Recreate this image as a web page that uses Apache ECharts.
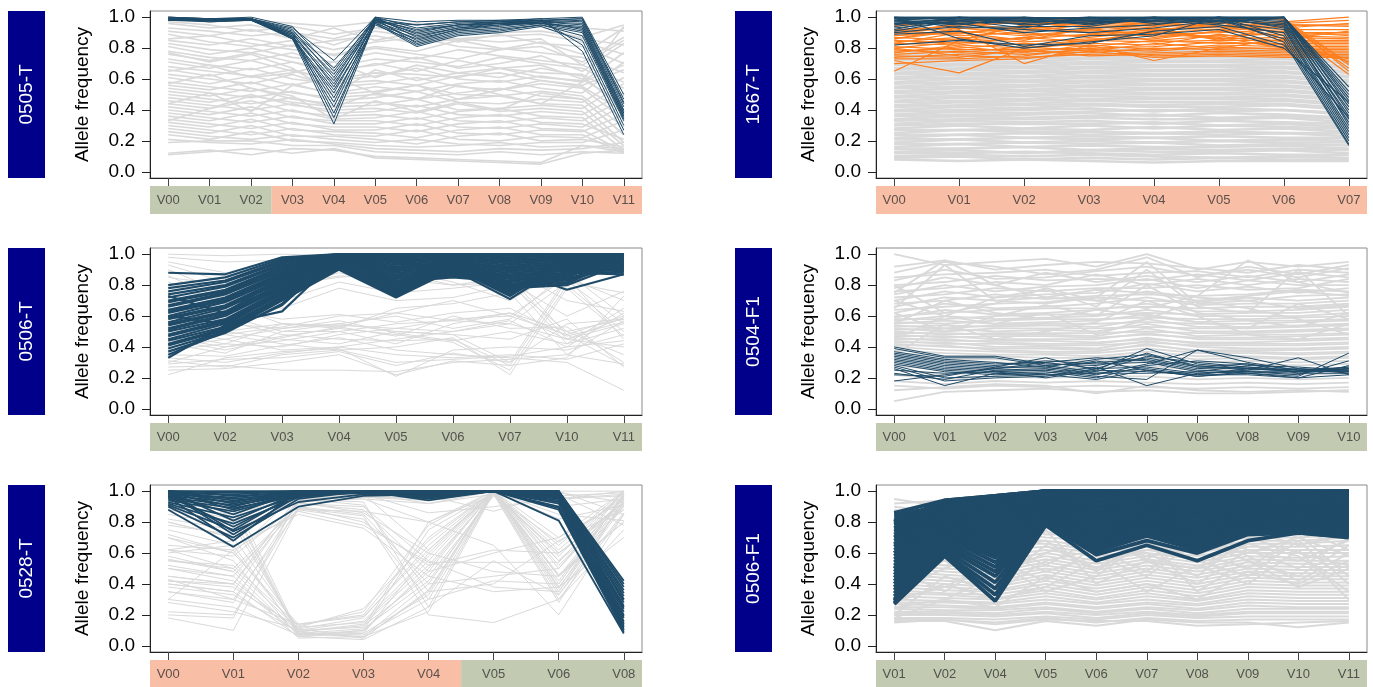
<!DOCTYPE html>
<html><head><meta charset="utf-8">
<script src="https://cdn.jsdelivr.net/npm/echarts@6/dist/echarts.min.js"></script>
<style>html,body{margin:0;padding:0;background:#fff}#c{width:1373px;height:687px}</style>
</head><body><div id="c"></div>
<script>
// ---------- DATA ----------
const panelNames = ['0505-T', '1667-T', '0506-T', '0504-F1', '0528-T', '0506-F1'];

const p1Cats = ['V00','V01','V02','V03','V04','V05','V06','V07','V08','V09','V10','V11'];
const p1Groups = [['green', 3], ['salmon', 9]];
const p1Gray = [
"99 97 98 96 94 97 95 97 96 95 93 91","96 93 95 90 86 93 90 91 93 94 86 82","93 91 88 90 82 91 87 86 88 89 84 76",
"91 88 92 86 93 85 90 84 89 83 81 70","89 84 81 85 79 84 87 81 79 84 76 93","86 88 83 79 76 81 78 85 80 77 74 64",
"83 79 77 82 75 80 76 73 79 81 71 87","81 76 80 74 71 77 73 79 75 72 69 58","78 74 72 77 68 73 71 68 74 70 67 54",
"76 72 77 71 66 69 74 67 70 75 65 83","73 69 66 71 64 70 65 72 67 64 63 49","71 67 72 65 60 64 63 61 67 69 60 44",
"68 65 62 66 59 62 67 60 58 62 58 77","66 62 67 60 57 59 56 62 64 59 55 39","63 60 57 63 55 57 61 55 53 57 54 34",
"61 57 62 56 51 55 52 57 59 54 51 71","58 55 52 57 50 52 56 50 49 52 49 29","56 53 58 51 48 50 47 51 54 49 47 24",
"54 51 48 52 46 48 52 45 44 47 45 61","52 49 54 47 44 45 42 47 49 44 43 19","50 47 44 48 42 43 47 40 41 43 41 57",
"48 45 50 43 40 41 38 44 39 41 39 17","46 43 40 44 38 39 43 37 36 39 37 51","44 41 46 39 36 37 34 39 41 36 35 14",
"42 39 36 40 34 35 39 33 32 35 33 47","40 37 42 35 33 33 30 35 37 32 31 21","38 35 32 36 31 31 35 29 28 31 29 43",
"36 33 38 31 29 29 26 31 33 28 27 13","34 31 28 32 27 27 31 25 24 27 26 37","32 29 34 27 26 25 22 27 29 24 24 12",
"30 27 24 28 24 23 27 21 20 23 22 33","28 25 30 23 23 21 18 23 25 20 21 16","26 23 21 24 21 19 21 18 17 19 19 27",
"24 21 26 20 19 17 16 17 19 16 17 13","21 19 18 21 18 15 14 13 15 14 15 19","19 20 20 17 17 13 12 11 13 11 13 12",
"12 14 11 15 14 10 9 8 7 6 17 15","11 13 15 12 15 9 8 7 6 5 12 14","97 95 91 94 89 93 96 92 90 91 87 95",
"85 82 86 81 85 88 83 86 84 86 69 85","65 69 61 64 71 61 69 64 67 61 59 94","44 51 39 56 61 51 47 56 50 44 58 69",
"33 41 49 45 42 51 56 47 53 59 56 66","57 63 54 49 34 46 39 45 40 51 47 24","77 71 76 67 51 66 59 64 61 67 62 40"
];
const p1Blue = [
"99 99 99 93 72 100 97 98 98 99 100 50","99 98 99 91 67 99 95 97 98 98 99 47","100 99 100 94 65 100 93 96 97 98 99 45",
"98 98 99 90 63 99 91 95 97 97 98 44","99 99 99 92 61 98 90 95 96 98 97 42","98 97 98 89 59 99 89 94 96 97 96 40",
"99 98 99 88 57 97 88 93 95 97 95 39","100 99 99 90 55 100 87 93 96 96 94 38","98 98 98 87 53 96 86 92 95 96 93 37",
"99 99 99 86 51 98 85 92 94 97 92 36","99 97 98 88 48 95 84 91 93 96 91 35","98 98 99 87 45 99 83 90 92 95 90 34",
"99 98 98 86 42 97 82 89 91 95 88 33","100 99 99 89 38 96 81 88 90 94 85 30","98 98 99 87 35 98 92 95 96 98 82 27",
"99 99 99 86 31 97 95 97 97 99 78 24"
];

const p2Cats = ['V00','V01','V02','V03','V04','V05','V06','V07'];
const p2Groups = [['salmon', 8]];
const p2Gray = [
"8 7 8 7 6 7 7 7","9 10 8 9 8 9 8 8","10 11 10 11 10 9 10 9","12 12 13 12 11 12 11 11","13 14 12 14 13 13 14 12",
"15 15 16 14 15 14 15 14","16 18 16 17 16 16 17 15","18 18 19 18 19 17 18 17","19 21 19 20 19 20 19 19","21 21 22 21 22 20 21 20",
"22 24 22 23 22 23 22 22","24 24 25 24 25 24 25 23","25 27 26 26 25 26 25 25","27 27 28 27 29 27 28 26","28 30 28 30 28 30 29 28",
"30 31 31 31 32 30 31 29","31 33 32 33 31 33 32 31","33 34 34 35 34 34 35 32","34 36 35 36 37 35 36 34","36 37 37 38 36 38 37 35",
"37 39 38 39 40 39 40 37","39 40 40 41 39 41 40 38","40 42 41 43 42 42 43 40","42 43 43 44 43 44 44 41","43 45 44 46 45 45 46 43",
"45 46 46 47 47 47 47 44","46 48 47 49 48 48 49 46","48 49 49 50 50 50 50 47","49 51 50 52 51 51 52 49","51 52 52 53 53 53 53 50",
"52 54 53 55 54 54 55 52","54 55 55 56 56 56 56 53","55 57 56 58 57 57 58 55","57 58 58 59 59 59 59 56","58 60 59 61 60 60 61 58",
"60 61 61 62 62 62 62 59","61 63 62 64 63 63 64 61","63 64 64 65 65 65 65 62","64 66 65 67 66 66 67 64","66 67 67 68 68 68 68 65",
"67 69 68 70 69 69 70 67","69 70 70 71 71 71 71 68","70 72 71 73 72 72 73 70","72 73 73 74 74 74 74 71","73 75 74 76 75 75 76 73",
"75 76 76 77 77 77 77 74","76 78 77 78 78 78 78 76","78 78 78 79 79 79 79 77"
];
const p2Orange = [
"95 97 96 97 94 96 97 100","92 94 97 93 95 93 96 98","90 93 91 95 92 94 93 96","88 90 93 90 90 92 95 94",
"86 91 88 92 89 90 92 92","92 88 90 87 91 95 90 90","84 87 86 89 88 88 89 89","82 86 84 86 86 91 88 87",
"85 83 87 84 90 86 87 86","80 84 82 85 84 85 85 85","83 82 80 83 82 89 84 84","78 80 83 81 85 83 83 83",
"81 79 79 80 81 84 82 82","77 81 77 82 79 82 81 81","79 77 81 78 83 80 80 80","76 78 76 79 78 81 79 79",
"74 76 78 77 80 79 78 78","80 75 74 76 77 78 77 77","75 74 79 75 76 77 76 76","73 73 75 80 75 76 75 75",
"70 72 73 78 74 75 74 74","65 85 95 90 85 88 82 73","72 64 80 85 90 87 80 72","88 92 70 82 72 80 86 71",
"91 95 98 94 91 97 99 70","87 85 95 96 93 92 98 69","89 96 92 97 96 94 97 67","94 98 99 98 95 98 99 65",
"83 90 85 93 87 91 94 63","86 93 89 88 92 86 91 88","90 89 94 91 93 85 95 95","77 82 87 92 97 97 86 91"
];
const p2Blue = [
"100 100 99 100 100 100 100 55","99 100 100 99 100 100 100 52","100 99 98 100 99 99 100 50","98 100 99 99 100 100 100 48",
"97 98 100 98 99 99 100 46","100 100 97 97 98 100 99 44","96 99 99 100 100 98 100 42","99 97 96 99 97 100 97 40",
"95 100 100 96 99 97 100 38","98 96 98 98 100 99 96 36","94 99 95 97 98 100 98 34","100 98 93 100 96 98 95 32",
"93 97 99 95 100 96 100 30","97 95 100 99 99 99 94 28","92 100 97 98 97 100 93 26","99 93 94 94 100 97 92 24",
"91 98 98 96 98 95 90 22","96 96 90 93 95 100 88 20","90 94 92 90 93 98 86 18","100 86 80 84 88 100 84 17",
"82 85 82 83 91 94 82 35","89 91 81 88 89 92 80 45"
];

const p3Cats = ['V00','V02','V03','V04','V05','V06','V07','V10','V11'];
const p3Groups = [['green', 9]];
const p3Gray = [
"100 99 100 99 98 100 99 100 100","95 88 80 85 88 80 85 45 55","93 82 78 88 80 85 88 48 60","90 75 70 82 75 78 82 42 65",
"86 70 65 78 70 72 80 50 58","82 68 55 53 62 70 60 85 45","75 60 50 50 55 57 55 82 75","70 55 52 55 60 52 58 88 60",
"65 50 45 42 50 48 30 85 70","60 57 48 45 44 45 28 83 55","55 50 55 52 48 43 25 80 50","52 48 42 38 40 46 22 78 47",
"50 45 38 40 45 50 55 45 40","48 42 40 48 52 58 60 48 28","46 40 44 50 42 55 62 50 35","45 38 46 53 47 60 52 53 30",
"42 36 50 55 50 48 45 58 27","40 45 52 57 49 44 50 42 52","38 42 55 54 52 50 57 40 62","35 34 41 46 38 35 33 30 12",
"33 30 36 40 35 33 35 32 42","31 27 35 38 30 32 34 40 44","29 32 33 37 28 36 30 55 58","27 28 25 25 24 30 32 35 29",
"25 26 30 35 22 31 28 33 73","22 33 37 39 21 38 40 38 48","30 40 47 52 65 68 75 35 57","45 48 53 60 62 57 62 45 59",
"56 64 58 61 56 62 65 47 56","68 73 80 86 84 80 82 60 76","85 80 85 95 90 82 70 92 95","98 95 96 92 88 94 90 70 63"
];
const p3Blue = [
"88 87 98 100 100 100 100 100 100","80 85 97 100 99 100 99 100 99","78 83 96 99 98 99 98 99 100","76 82 95 100 97 98 97 98 98",
"74 80 94 99 96 98 96 98 97","72 79 93 98 95 97 95 97 96","70 77 92 100 94 97 94 96 95","69 76 91 99 93 96 93 95 94",
"67 75 90 98 92 95 92 94 93","66 74 89 100 91 94 91 93 92","64 72 88 99 90 93 90 92 91","63 71 87 98 89 92 89 91 90",
"62 70 86 100 88 91 88 90 89","60 69 85 99 87 90 87 89 88","59 67 84 97 86 89 86 88 87","58 66 83 100 85 88 85 87 96",
"56 65 82 99 84 87 84 86 98","55 63 81 98 83 86 83 85 99","54 62 80 100 82 85 82 84 95","52 61 79 99 81 99 81 83 93",
"51 60 78 98 80 98 80 82 100","50 58 77 97 79 97 79 81 97","48 57 76 96 78 96 78 80 94","47 56 75 95 77 95 77 99 96",
"45 55 74 94 76 94 76 98 99","44 53 73 93 75 93 75 97 92","42 52 72 92 74 92 74 96 91","41 51 71 91 73 91 73 95 90",
"39 50 70 90 72 90 71 94 89","37 49 68 99 95 87 90 77 87","35 50 67 100 98 86 92 93 98","33 54 75 100 100 99 100 100 100",
"60 55 63 98 99 100 99 100 100","73 62 85 100 100 100 100 100 100"
];

const p4Cats = ['V00','V01','V02','V03','V04','V05','V06','V08','V09','V10'];
const p4Groups = [['green', 10]];
const p4Gray = [
"100 93 95 97 92 100 90 95 92 95","92 96 90 93 95 94 91 88 93 90","88 95 92 87 90 98 85 92 87 93","85 87 88 90 86 88 89 85 90 88",
"83 90 84 85 89 92 86 90 85 91","80 82 86 83 84 83 87 83 88 85","78 85 80 88 82 86 82 86 82 87","76 78 82 80 87 80 84 80 84 82",
"74 80 76 79 80 84 78 83 80 80","72 74 78 76 78 78 80 77 78 84","70 76 72 74 75 81 76 79 75 78","68 70 74 71 73 74 73 74 77 76",
"66 72 70 72 70 76 72 70 73 74","64 66 68 69 72 70 69 72 70 72","62 68 65 66 68 72 67 68 68 70","60 62 64 65 65 66 65 66 66 68",
"59 64 61 62 64 68 63 63 64 66","58 58 60 61 61 62 61 62 62 64","57 60 58 59 60 64 60 60 60 62","56 55 57 58 58 59 58 58 59 60",
"55 57 55 56 57 61 56 57 57 58","54 52 54 55 55 56 55 55 56 57","53 54 53 54 53 58 53 53 54 55","52 50 52 52 52 53 52 52 53 54",
"51 52 50 51 50 55 50 50 51 52","50 48 49 49 49 50 49 49 50 51","49 49 48 48 47 52 47 48 48 49","48 46 47 47 46 48 46 46 47 48",
"47 47 45 45 45 49 45 45 45 46","46 44 44 44 43 45 43 43 44 45","45 45 43 42 42 46 42 42 42 43","44 42 42 41 41 43 41 41 41 42",
"43 43 40 40 39 44 40 39 39 40","42 40 39 39 38 41 38 38 38 39","41 41 38 37 37 42 37 37 36 37","40 38 37 36 36 39 36 36 35 36",
"38 36 35 35 34 37 34 34 33 34","36 34 34 33 33 35 32 33 32 33","34 32 32 31 31 33 30 31 30 31","31 30 30 29 29 31 28 29 28 29",
"28 25 27 26 27 28 25 26 25 26","25 22 24 23 24 25 22 23 22 23","22 19 21 20 21 21 19 20 19 20","18 16 18 17 18 17 16 17 16 17",
"15 13 15 14 15 14 13 14 13 14","5 11 12 13 11 12 10 10 11 12","12 14 16 15 10 15 12 11 12 11","75 96 80 72 77 75 70 73 76 73",
"65 93 70 68 72 95 68 70 65 67","80 62 68 78 70 65 73 96 82 75","70 60 72 77 66 90 66 62 90 60","62 50 60 67 60 80 62 57 53 62",
"35 55 45 50 56 70 60 48 45 55","45 60 55 62 48 58 70 65 58 48","55 70 62 58 64 60 56 52 68 58"
];
const p4Blue = [
"40 34 34 29 28 33 27 26 25 24","39 33 33 28 30 32 26 27 24 25","37 32 30 27 32 35 28 25 26 23","36 31 29 30 33 31 25 24 23 26",
"35 30 28 31 29 30 24 28 27 25","34 29 27 33 25 39 29 26 24 24","33 28 26 28 24 34 30 27 25 27","32 27 25 26 22 29 38 33 26 25",
"31 26 24 25 21 19 38 30 25 24","30 25 23 24 20 28 31 29 23 23","29 24 22 23 27 15 23 25 33 22","28 20 21 22 23 26 22 26 24 26",
"27 18 20 21 26 27 23 24 22 31","26 15 23 22 19 25 21 23 21 36","25 23 24 20 25 24 22 22 20 22","23 19 25 25 31 25 21 24 24 27",
"22 21 27 27 23 23 24 23 20 28","18 22 26 30 26 36 27 29 25 26"
];

const p5Cats = ['V00','V01','V02','V03','V04','V05','V06','V08'];
const p5Groups = [['salmon', 5], ['green', 3]];
const p5Gray = [
"98 95 8 6 40 100 55 95","95 90 7 8 60 100 65 100","92 88 6 10 75 99 45 90","90 82 9 5 35 100 40 98",
"85 78 10 12 80 98 60 93","80 70 12 15 55 100 35 97","75 65 8 7 30 99 30 85","72 60 14 20 70 100 50 100",
"70 55 6 4 25 100 38 92","65 62 9 13 45 97 67 96","62 50 11 18 65 100 62 99","58 48 7 9 50 100 55 88",
"55 52 13 22 78 100 70 94","52 45 5 6 22 99 33 91","50 42 10 16 58 100 46 80","45 40 8 11 42 98 28 95",
"42 38 12 24 68 100 58 100","40 35 6 8 33 100 42 97","38 33 9 14 52 99 60 90","35 30 14 19 62 100 37 99",
"30 25 7 10 48 100 52 93","28 22 11 5 36 100 45 96",
"62 58 92 88 48 60 70 100","55 50 90 85 40 45 50 96","45 40 92 90 55 38 35 93","43 30 88 82 30 42 40 98",
"40 35 95 93 25 55 33 86","35 28 93 86 60 48 45 80","22 20 90 80 52 62 60 92","20 18 95 91 35 40 68 88",
"18 10 89 84 20 15 30 75","60 65 85 76 45 35 38 70","50 45 93 95 80 65 20 85","30 62 87 78 54 54 54 100",
"95 92 98 99 100 100 100 100","93 96 99 100 97 87 99 93","90 85 97 98 86 90 95 98","88 80 100 96 96 100 97 99",
"82 75 94 99 92 100 85 81","80 70 99 97 95 100 90 95","78 72 96 95 92 98 100 85","70 60 99 100 98 100 95 100",
"62 68 97 96 94 100 98 78","56 48 88 87 80 100 82 91","42 40 97 98 62 99 95 97"
];
const p5Blue = [
"100 100 100 100 100 100 100 42","100 99 100 100 100 100 100 40","99 98 100 100 99 100 100 38","100 97 99 100 100 100 99 36",
"98 96 100 99 99 100 100 34","100 95 99 100 98 100 99 32","99 94 98 100 100 100 98 30","97 93 100 99 99 100 100 28",
"100 92 99 100 97 100 97 26","96 91 98 100 100 100 99 25","99 90 100 99 98 100 96 24","95 89 97 100 99 100 98 22",
"100 88 99 100 96 100 95 20","94 87 98 99 100 100 100 19","98 85 100 100 98 100 94 18","93 83 97 100 99 100 97 16",
"100 81 99 99 97 100 93 15","92 79 96 100 100 100 99 14","97 77 98 100 95 100 92 13","91 75 99 100 98 100 90 12",
"99 72 97 99 99 100 89 11","90 70 95 100 96 100 100 10","96 68 100 100 94 100 88 9","88 64 90 97 98 100 81 8",
"100 74 93 98 97 100 96 30"
];

const p6Cats = ['V01','V02','V04','V05','V06','V07','V08','V09','V10','V11'];
const p6Groups = [['green', 10]];
const p6Gray = [
"95 90 94 90 85 88 80 86 90 92","92 94 92 85 80 82 76 82 84 88","90 86 88 80 78 80 72 78 80 84","88 82 84 76 74 78 70 76 78 80",
"85 80 80 72 72 74 68 74 75 78","80 76 75 70 68 72 66 72 72 75","76 72 70 68 64 70 64 70 70 72","72 68 66 66 62 66 62 68 68 70",
"70 64 62 64 60 64 60 66 66 68","66 60 58 62 58 62 58 64 64 65","62 58 55 60 55 60 56 62 62 62","58 55 52 58 53 58 54 60 60 60",
"55 52 50 56 51 56 52 58 57 58","52 50 48 54 49 54 50 56 55 55","50 48 46 52 47 52 48 54 53 53","48 46 44 50 45 50 46 52 51 51",
"46 44 42 48 43 48 44 50 49 49","44 42 40 46 41 46 42 48 47 47","42 40 38 44 39 44 40 46 45 45","40 38 36 42 37 42 38 44 43 43",
"38 36 35 40 35 40 36 42 41 41","36 34 33 38 33 38 34 40 39 39","34 33 31 36 31 36 32 38 37 37","32 31 30 34 30 34 30 36 35 35",
"30 29 28 32 28 32 29 34 33 33","28 28 27 30 27 30 27 32 31 31","27 26 25 28 25 28 26 30 29 29","25 25 24 27 24 27 24 28 27 27",
"24 23 23 25 22 25 23 26 25 25","22 22 21 24 21 24 21 24 24 24","21 21 20 22 20 22 20 22 22 22","20 20 19 21 18 21 19 21 21 21",
"18 18 17 19 17 20 18 19 19 19","17 17 15 18 15 18 16 17 17 17","16 16 10 16 13 17 15 15 12 15","15 17 14 17 16 16 13 14 15 16",
"25 30 45 60 72 55 40 62 50 70","35 50 62 68 48 70 55 45 68 40","20 45 35 55 62 48 72 58 42 60","30 38 55 42 65 60 45 70 60 52",
"45 55 40 65 50 66 60 50 72 45","60 52 62 48 58 45 68 55 45 65","40 58 48 75 40 55 50 66 58 35","18 30 25 45 35 40 30 48 40 55",
"55 62 70 78 55 62 66 60 70 58","65 58 68 52 70 56 75 62 55 68","28 40 30 38 55 35 52 40 62 30","50 35 55 35 45 68 35 55 38 50",
"75 65 55 80 60 72 58 75 65 72","85 70 60 74 66 58 62 68 76 62"
];
const p6Blue = [
"86 94 97 100 100 100 100 100 100 100","81 93 97 100 100 100 100 100 100 100","80 92 96 100 99 100 100 100 100 99","79 91 95 100 98 99 99 100 99 98",
"78 90 94 99 97 98 98 99 98 97","76 89 93 99 96 97 97 99 98 96","74 88 91 98 95 96 96 98 97 95","72 87 89 98 94 95 95 97 96 94",
"70 86 87 97 93 94 94 96 95 93","68 85 85 97 91 93 92 95 94 92","66 84 83 96 90 92 91 94 93 91","64 83 81 96 89 91 90 93 92 90",
"62 82 79 95 87 90 88 92 91 89","60 81 77 95 86 89 87 91 90 88","58 80 75 94 85 88 85 90 89 87","56 79 73 93 83 87 84 89 88 86",
"54 78 71 93 82 86 82 88 87 85","52 77 69 92 80 85 81 87 86 84","50 76 67 91 79 84 79 86 85 83","48 75 65 90 77 83 78 85 84 82",
"46 74 63 89 76 82 76 84 83 81","44 73 61 88 74 81 75 83 82 80","42 72 59 87 73 80 73 82 81 79","40 71 57 86 71 79 72 81 80 78",
"38 70 54 85 70 78 70 80 79 77","36 68 51 84 68 77 69 79 78 76","34 66 48 83 67 76 67 78 77 75","32 64 45 82 65 75 66 77 76 74",
"30 62 41 81 63 73 64 76 75 73","29 60 37 80 61 71 62 74 74 72","28 59 33 79 59 68 60 72 73 71","27 58 29 78 55 65 55 68 73 70",
"85 90 96 100 100 100 100 100 100 99","83 88 95 100 99 100 99 100 100 98","80 94 97 100 100 99 100 99 100 100","76 86 92 100 98 100 98 100 99 100",
"70 84 90 100 97 99 97 100 98 100","65 80 88 100 96 98 96 99 97 99","60 78 86 99 95 97 95 98 96 98","50 74 80 98 92 95 93 97 95 97"
];
const yTicks = [0, 0.2, 0.4, 0.6, 0.8, 1.0];

// ---------- STYLE / LAYOUT ----------
const COL = { gray: '#d9d9d9', blue: '#1f4b68', orange: '#ff7f1e', green: '#c2cbb2', salmon: '#f8bea6', box: '#00008b' };
const FONT = '"Liberation Sans", Arial, Helvetica, sans-serif';
const colX = [{ box: 8, frame: 150, w: 492 }, { box: 735, frame: 876, w: 491 }];
const rowY = [{ frame: 11, strip: 186 }, { frame: 248, strip: 423 }, { frame: 485, strip: 660 }];
const FRAME_H = 167, STRIP_H = 28, BOX_W = 37;

const parse = s => s.trim().split(/\s+/).map(v => Number(v) / 100);

const panels = [
  { cats: p1Cats, groups: p1Groups, layers: [[p1Gray, 'gray', 1.6], [p1Blue, 'blue', 1]] },
  { cats: p2Cats, groups: p2Groups, layers: [[p2Gray, 'gray', 2.6], [p2Orange, 'orange', 1.2], [p2Blue, 'blue', 1.1]] },
  { cats: p3Cats, groups: p3Groups, layers: [[p3Gray, 'gray', 1], [p3Blue, 'blue', 2.2]] },
  { cats: p4Cats, groups: p4Groups, layers: [[p4Gray, 'gray', 1.8], [p4Blue, 'blue', 1]] },
  { cats: p5Cats, groups: p5Groups, layers: [[p5Gray, 'gray', 1], [p5Blue, 'blue', 1.8]] },
  { cats: p6Cats, groups: p6Groups, layers: [[p6Gray, 'gray', 2], [p6Blue, 'blue', 3.8]] }
];

const grid = [], xAxis = [], yAxis = [], series = [], graphic = [];
panels.forEach((p, k) => {
  const c = colX[k % 2], r = rowY[Math.floor(k / 2)];
  const n = p.cats.length;
  const xmin = -0.04 * (n - 1), xmax = 1.04 * (n - 1);
  const gi = grid.length;
  grid.push({ left: c.frame, top: r.frame, width: c.w, height: FRAME_H, show: true, borderColor: '#8a8a8a', borderWidth: 1, backgroundColor: '#fff', outerBoundsMode: 'none', containLabel: false });
  xAxis.push({ gridIndex: gi, type: 'value', min: xmin, max: xmax,
    axisLine: { show: true, onZero: false, lineStyle: { color: '#222', width: 1 } },
    axisTick: { show: true, length: 8, lineStyle: { color: '#444' }, customValues: p.cats.map((_, i) => i) },
    axisLabel: { show: false }, splitLine: { show: false } });
  yAxis.push({ gridIndex: gi, type: 'value', min: -0.04, max: 1.04,
    name: 'Allele frequency', nameLocation: 'middle', nameGap: 58,
    nameTextStyle: { fontSize: 19, color: '#000', fontFamily: FONT },
    axisLine: { show: true, onZero: false, lineStyle: { color: '#222', width: 1 } },
    axisTick: { show: true, length: 8, lineStyle: { color: '#222' }, customValues: yTicks },
    axisLabel: { show: true, customValues: yTicks, formatter: v => Number(v).toFixed(1), fontSize: 19, color: '#000', margin: 15, fontFamily: FONT },
    splitLine: { show: false } });
  p.layers.forEach(([lines, col, w], li) => {
    lines.forEach(s => {
      series.push({ type: 'line', xAxisIndex: gi, yAxisIndex: gi, data: parse(s).map((v, i) => [i, v]),
        symbol: 'none', showSymbol: false, silent: true, animation: false, z: 2 + li,
        lineStyle: { color: COL[col], width: w }, emphasis: { disabled: true } });
    });
  });
  const si = grid.length;
  grid.push({ left: c.frame, top: r.strip, width: c.w, height: STRIP_H, show: false, outerBoundsMode: 'none', containLabel: false });
  xAxis.push({ gridIndex: si, type: 'value', min: xmin, max: xmax, show: false });
  yAxis.push({ gridIndex: si, type: 'value', min: 0, max: 1, show: false });
  let start = xmin, cum = 0;
  const areas = p.groups.map(([g, cnt], gi2) => {
    cum += cnt;
    const end = gi2 === p.groups.length - 1 ? xmax : cum - 0.5;
    const a = [{ xAxis: start, itemStyle: { color: COL[g] } }, { xAxis: end }];
    start = end;
    return a;
  });
  series.push({ type: 'scatter', xAxisIndex: si, yAxisIndex: si, symbolSize: 0, silent: true, animation: false,
    data: p.cats.map((cat, i) => [i, 0.5, cat]),
    label: { show: true, position: 'inside', formatter: q => q.value[2], fontSize: 13, color: '#333', fontFamily: FONT },
    markArea: { silent: true, animation: false, data: areas } });
  graphic.push({ type: 'rect', left: c.box, top: r.frame, shape: { width: BOX_W, height: FRAME_H }, style: { fill: COL.box }, z: 10 });
  graphic.push({ type: 'text', x: c.box + BOX_W / 2, y: r.frame + FRAME_H / 2, rotation: Math.PI / 2,
    style: { text: panelNames[k], fill: '#fff', font: '19px ' + FONT, align: 'center', verticalAlign: 'middle' }, z: 11 });
});

const chart = echarts.init(document.getElementById('c'), null, { renderer: 'canvas' });
chart.setOption({ animation: false, grid, xAxis, yAxis, series, graphic });
</script>
</body></html>
